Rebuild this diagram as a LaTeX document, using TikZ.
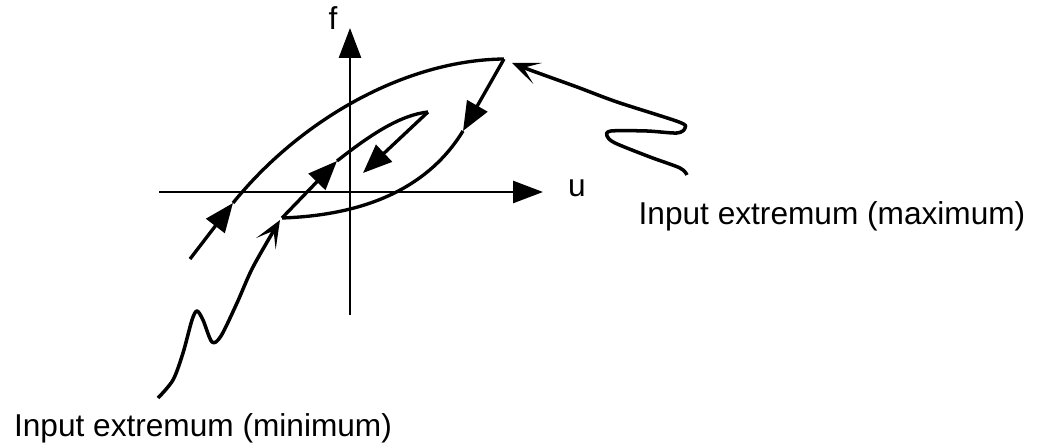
\documentclass[tikz,border=0pt]{standalone}
\usepackage{fontspec}
\setmainfont{Liberation Sans}
\usepackage{tikz}
\usetikzlibrary{arrows.meta,calc}
\tikzset{
  axis/.style={line width=1.5pt, -{Triangle[length=0.6cm, width=0.44cm]}},
  branch/.style={line width=1.9pt},
  midarrow/.style={line width=1.9pt, -{Triangle[length=0.58cm, width=0.46cm]}},
  wiggle/.style={line width=2pt, line join=round, -{Stealth[length=0.55cm, width=0.45cm, inset=0.3cm]}},
  lbl/.style={font=\fontsize{18}{20}\selectfont, inner sep=0pt}
}

\begin{document}
\begin{tikzpicture}[x=0.02cm, y=-0.02cm]
  \useasboundingbox (0,0) rectangle (1042,448);

  % axes
  \coordinate (xl) at (159,192);
  \coordinate (xr) at (543,192);
  \coordinate (yb) at (350,315);
  \coordinate (yt) at (350,28);
  \draw[axis] (xl) -- (xr);
  \draw[axis] (yb) -- (yt);
  \node[lbl] (flab) at (333,18) {f};
  \node[lbl] (ulab) at (577,188) {u};

  % loop points
  \coordinate (start) at (190,259);
  \coordinate (outA) at (233,203);
  \coordinate (maxpt) at (504,59);
  \coordinate (downk) at (463,131);
  \coordinate (minpt) at (282,218);
  \coordinate (innk) at (337,161);
  \coordinate (inntip) at (428,112);
  \coordinate (backk) at (363,173);

  % outer loop
  \draw[midarrow] (start) -- (outA);
  \draw[branch] (outA) .. controls (300,120) and (405,60) .. (maxpt);
  \draw[midarrow] (maxpt) -- (downk);
  \draw[branch] (downk) .. controls (430,185) and (370,215) .. (minpt);

  % inner loop
  \draw[midarrow] (minpt) -- (innk);
  \draw[branch] (innk) .. controls (370,135) and (400,115) .. (inntip);
  \draw[midarrow] (inntip) -- (backk);

  % input extrema
  \draw[wiggle] plot[smooth, tension=0.5] coordinates {(158,398) (173,380) (183,353) (192,320) (197,311) (203,320) (212,342) (221,336) (237,303) (253,267) (280,220)};
  \draw[wiggle] plot[smooth, tension=0.5] coordinates {(687,175) (680,168) (650,157) (615,143) (607,136) (611,131) (647,131) (677,133) (685,128) (679,122) (617,102) (577,87) (530,70) (512,63)};

  \node[lbl] (maxlab) at (832,216) {Input extremum (maximum)};
  \node[lbl] (minlab) at (203,428) {Input extremum (minimum)};
\end{tikzpicture}
\end{document}
